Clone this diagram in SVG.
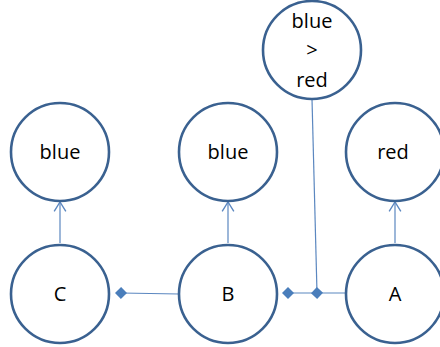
<svg xmlns="http://www.w3.org/2000/svg" width="440" height="347" viewBox="0 0 440 347">
<style>
.node circle{fill:#fff;stroke:#3A6190;stroke-width:2.6}
.node text{font-family:"Open Sans","Liberation Sans",sans-serif;font-size:20px;fill:#000;text-anchor:middle}
.conn line{stroke:#5B87C0;stroke-width:1.2;fill:none}
</style>
<defs>
<marker id="arr" markerUnits="userSpaceOnUse" markerWidth="14" markerHeight="14" refX="9" refY="6" orient="auto" viewBox="0 0 12 12">
<path d="M1,1 L9,6 L1,11" fill="none" stroke="#5B87C0" stroke-width="1.2"/>
</marker>
<marker id="dia" markerUnits="userSpaceOnUse" markerWidth="14" markerHeight="14" refX="7" refY="7" orient="auto" viewBox="0 0 14 14">
<path d="M1,7 L7,1 L13,7 L7,13 Z" fill="#4A7EBB"/>
</marker>
</defs>
<g class="conn">
<line x1="60" y1="243" x2="60" y2="202" marker-end="url(#arr)"/>
<line x1="228" y1="243" x2="228" y2="202" marker-end="url(#arr)"/>
<line x1="395" y1="243" x2="395" y2="202" marker-end="url(#arr)"/>
<line x1="121" y1="293" x2="179" y2="294" marker-start="url(#dia)"/>
<line x1="288" y1="293" x2="346" y2="293" marker-start="url(#dia)"/>
<line x1="312" y1="99" x2="317" y2="293" marker-end="url(#dia)"/>
</g>
<g id="node-blue1" class="node"><circle cx="60" cy="152" r="49"/><text x="60" y="159">blue</text></g>
<g id="node-blue2" class="node"><circle cx="228" cy="152" r="49"/><text x="228" y="159">blue</text></g>
<g id="node-red" class="node"><circle cx="395" cy="152" r="49"/><text x="393" y="159">red</text></g>
<g id="node-bluered" class="node"><circle cx="312" cy="50" r="49"/><text x="312" y="28">blue</text><text x="312" y="57">&gt;</text><text x="312" y="87">red</text></g>
<g id="node-C" class="node"><circle cx="60" cy="294" r="49"/><text x="60" y="301">C</text></g>
<g id="node-B" class="node"><circle cx="228" cy="294" r="49"/><text x="228" y="301">B</text></g>
<g id="node-A" class="node"><circle cx="395" cy="294" r="49"/><text x="395" y="301">A</text></g>
</svg>
